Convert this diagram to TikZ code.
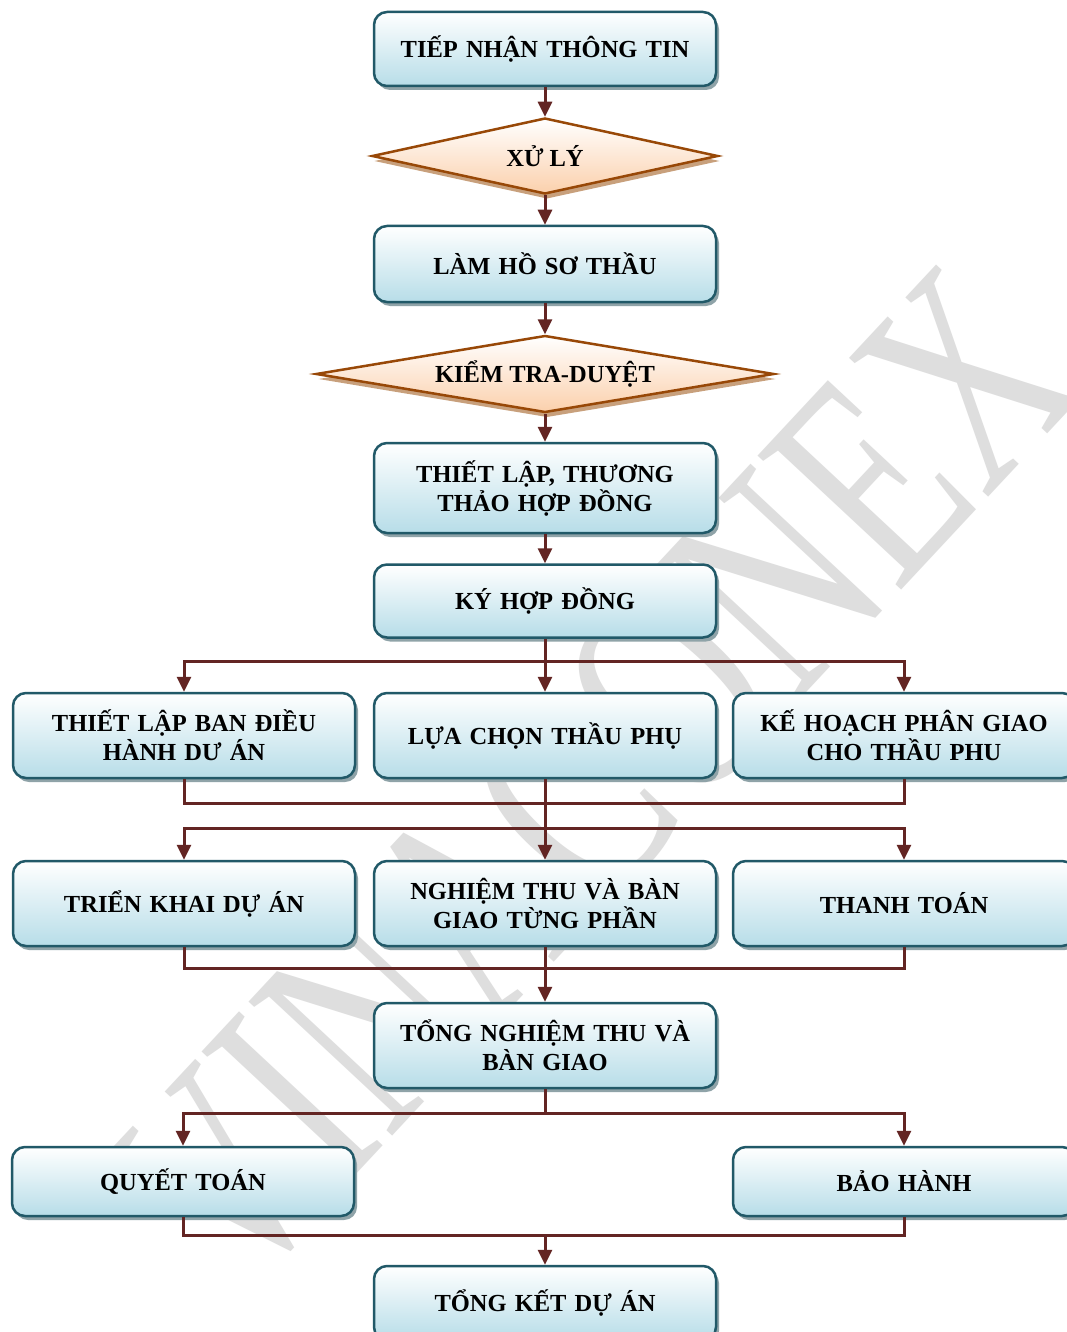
\documentclass[tikz,border=0pt]{standalone}
\usepackage{fontspec}
\setmainfont{Liberation Serif}
\usetikzlibrary{shapes.geometric,arrows.meta,shadows,calc}
\definecolor{boxline}{HTML}{215968}
\definecolor{boxbot}{HTML}{B7DDE8}
\definecolor{dialine}{HTML}{984807}
\definecolor{diabot}{HTML}{FBD0AC}
\definecolor{arrcol}{HTML}{632523}
\definecolor{wm}{HTML}{DEDEDE}
\definecolor{shboxc}{HTML}{8FA3A8}
\definecolor{shdiac}{HTML}{C8A07C}
\begin{document}
\begin{tikzpicture}[x=1pt,y=-1pt,
  stepbox/.style={rectangle, rounded corners=13pt, draw=boxline, line width=2.5pt,
    top color=white, bottom color=boxbot, minimum width=342pt, text width=330pt,
    align=center, inner sep=0pt,
    font=\fontsize{24.5}{29}\selectfont\bfseries,
    drop shadow={shadow xshift=3pt, shadow yshift=-4pt, fill=shboxc, opacity=1}},
  decbox/.style={diamond, draw=dialine, line width=2.5pt, top color=white,
    bottom color=diabot, inner sep=0pt,
    font=\fontsize{24.5}{29}\selectfont\bfseries,
    drop shadow={shadow xshift=2pt, shadow yshift=-5pt, fill=shdiac, opacity=1}},
  conn/.style={draw=arrcol, line width=3pt},
  arr/.style={conn, -{Triangle[width=14pt,length=15pt]}}]
\useasboundingbox (0,0) rectangle (1067,1332);
\clip (0,0) rectangle (1067,1332);
\fill[white] (0,0) rectangle (1067,1332);

% watermark
\node[rotate=47, text=wm, inner sep=0pt, font=\fontsize{300}{300}\selectfont] (wmk) at (592,780) {\scalebox{0.7}[1]{VINACONEX}};

% nodes
\node[stepbox, minimum height=74pt] (tiep) at (545,49) {TIẾP NHẬN THÔNG TIN};
\node[decbox, minimum width=346pt, minimum height=76pt, aspect=4.55] (xuly) at (545,156) {XỬ LÝ};
\node[stepbox, minimum height=76pt] (lam) at (545,264) {LÀM HỒ SƠ THẦU};
\node[decbox, minimum width=458pt, minimum height=77pt, aspect=5.95] (kiem) at (545,374) {KIỂM TRA-DUYỆT};
\node[stepbox, minimum height=90pt] (thiet) at (545,488) {THIẾT LẬP, THƯƠNG\\THẢO HỢP ĐỒNG};
\node[stepbox, minimum height=73pt] (ky) at (545,601) {KÝ HỢP ĐỒNG};

\node[stepbox, minimum height=85pt] (ra1) at (184,735.5) {THIẾT LẬP BAN ĐIỀU\\HÀNH DƯ ÁN};
\node[stepbox, minimum height=85pt] (rb1) at (545,735.5) {LỰA CHỌN THẦU PHỤ};
\node[stepbox, minimum height=85pt] (rc1) at (904,735.5) {KẾ HOẠCH PHÂN GIAO\\CHO THẦU PHU};

\node[stepbox, minimum height=85pt] (ra2) at (184,903.5) {TRIỂN KHAI DỰ ÁN};
\node[stepbox, minimum height=85pt] (rb2) at (545,903.5) {NGHIỆM THU VÀ BÀN\\GIAO TỪNG PHẦN};
\node[stepbox, minimum height=85pt] (rc2) at (904,903.5) {THANH TOÁN};

\node[stepbox, minimum height=85pt] (tnt) at (545,1045.5) {TỔNG NGHIỆM THU VÀ\\BÀN GIAO};

\node[stepbox, minimum height=69pt] (qt) at (183,1181.5) {QUYẾT TOÁN};
\node[stepbox, minimum height=69pt] (bh) at (904,1181.5) {BẢO HÀNH};

\node[stepbox, minimum height=74pt] (tk) at (545,1303) {TỔNG KẾT DỰ ÁN};

% levels
\coordinate (h1) at (0,661);
\coordinate (m1) at (0,803);
\coordinate (h2) at (0,828);
\coordinate (m2) at (0,968);
\coordinate (h3) at (0,1113);
\coordinate (m3) at (0,1235);

% connectors
\draw[arr] (tiep.south) -- (xuly.north);
\draw[arr] (xuly.south) -- (lam.north);
\draw[arr] (lam.south) -- (kiem.north);
\draw[arr] (kiem.south) -- (thiet.north);
\draw[arr] (thiet.south) -- (ky.north);

\draw[arr] (ky.south) -- (rb1.north);
\draw[arr] (ky.south |- h1) -- (ra1.north |- h1) -- (ra1.north);
\draw[arr] (ky.south |- h1) -- (rc1.north |- h1) -- (rc1.north);

\draw[conn] (ra1.south) -- (ra1.south |- m1) -- (rc1.south |- m1) -- (rc1.south);
\draw[arr] (rb1.south) -- (rb2.north);
\draw[arr] (rb1.south |- h2) -- (ra2.north |- h2) -- (ra2.north);
\draw[arr] (rb1.south |- h2) -- (rc2.north |- h2) -- (rc2.north);

\draw[conn] (ra2.south) -- (ra2.south |- m2) -- (rc2.south |- m2) -- (rc2.south);
\draw[arr] (rb2.south) -- (tnt.north);

\draw[arr] (tnt.south) -- (tnt.south |- h3) -- (qt.north |- h3) -- (qt.north);
\draw[arr] (tnt.south |- h3) -- (bh.north |- h3) -- (bh.north);

\draw[conn] (qt.south) -- (qt.south |- m3) -- (bh.south |- m3) -- (bh.south);
\draw[arr] (tnt.south |- m3) -- (tk.north);
\end{tikzpicture}
\end{document}
